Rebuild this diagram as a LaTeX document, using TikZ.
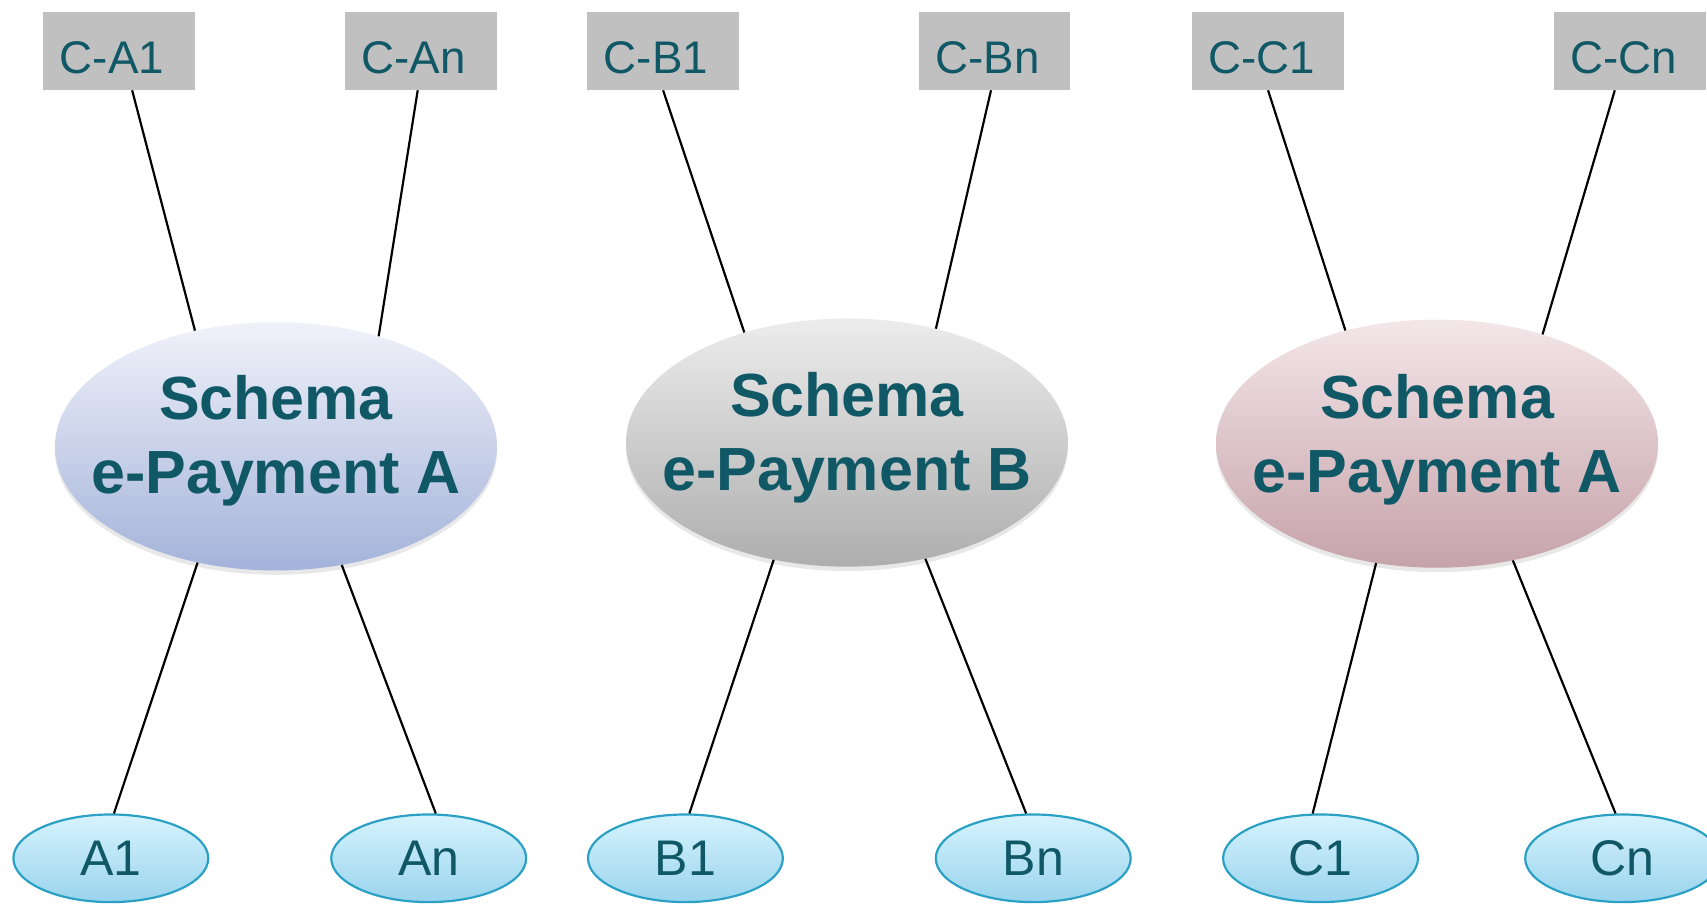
\documentclass[tikz,border=0pt]{standalone}
\usepackage{fontspec}
\setmainfont{Liberation Sans}
\usetikzlibrary{shapes.geometric,shadows}
\definecolor{schemateal}{RGB}{16,88,102}
\definecolor{boxgray}{RGB}{192,192,192}
\definecolor{membertop}{RGB}{214,243,253}
\definecolor{memberbottom}{RGB}{154,212,237}
\definecolor{memberborder}{RGB}{42,160,196}
\tikzset{link/.style={black, line width=2pt},
  cbox/.style={fill=boxgray, text=schemateal, font=\fontsize{42}{50}\selectfont, minimum height=71.7pt, text width=109pt, inner xsep=15pt, inner ysep=0pt, align=left, text height=41pt, text depth=0pt},
  schema/.style={ellipse, minimum width=406pt, minimum height=228pt, inner sep=0pt, drop shadow={shadow xshift=0pt, shadow yshift=-4pt, opacity=0.15, fill=black!60}},
  schematext/.style={text=schemateal, font=\bfseries\fontsize{56}{68}\selectfont, align=center, inner sep=0pt},
  member/.style={ellipse, draw=memberborder, line width=2pt, top color=membertop, bottom color=memberbottom, minimum width=179pt, minimum height=80.5pt, inner sep=0pt, text=schemateal, font=\fontsize{46}{55}\selectfont}}

\begin{document}
\begin{tikzpicture}[x=1pt, y=-1pt]
  \useasboundingbox (0,0) rectangle (1568,830);

  % clearing nodes
  \node[cbox] (ca1) at ( 109.4,46.9) {C-A1};
  \node[cbox] (can) at ( 386.7,46.9) {C-An};
  \node[cbox] (cb1) at ( 609.1,46.9) {C-B1};
  \node[cbox] (cbn) at ( 913.8,46.9) {C-Bn};
  \node[cbox] (cc1) at (1164.8,46.9) {C-C1};
  \node[cbox] (ccn) at (1497.3,46.9) {C-Cn};

  % schemes
  \node[schema, top color={rgb,255:red,240;green,242;blue,250}, middle color={rgb,255:red,202;green,210;blue,233}, bottom color={rgb,255:red,164;green,179;blue,218}] (ea) at ( 253.5,410.0) {};
  \node[schema, top color={rgb,255:red,236;green,236;blue,236}, middle color={rgb,255:red,210;green,210;blue,210}, bottom color={rgb,255:red,174;green,174;blue,174}] (eb) at ( 778.0,406.5) {};
  \node[schema, top color={rgb,255:red,243;green,230;blue,233}, middle color={rgb,255:red,222;green,199;blue,204}, bottom color={rgb,255:red,198;green,163;blue,170}] (ec) at (1320.0,407.5) {};
  \node[schematext] (ta) at ([yshift=5pt]ea) {Schema\\e-Payment A};
  \node[schematext] (tb) at ([yshift=4pt]eb) {Schema\\e-Payment B};
  \node[schematext] (tc) at ([yshift=4pt]ec) {Schema\\e-Payment A};

  % members
  \node[member] (a1) at ( 101.8,788.4) {A1};
  \node[member] (an) at ( 393.8,788.4) {An};
  \node[member] (b1) at ( 629.6,788.4) {B1};
  \node[member] (bn) at ( 949.1,788.4) {Bn};
  \node[member] (c1) at (1213.0,788.4) {C1};
  \node[member] (cn) at (1490.5,788.4) {Cn};

  \draw[link] ([xshift=12pt]ca1.south) -- (ea.125);
  \draw[link] ([xshift=-3pt]can.south) -- (ea.47);
  \draw[link] (cb1.south) -- (eb.133);
  \draw[link] ([xshift=-3.5pt]cbn.south) -- (eb.52);
  \draw[link] (cc1.south) -- (ec.129);
  \draw[link] ([xshift=-14pt]ccn.south) -- (ec.46);

  \draw[link] (ea.236) -- (a1.86);
  \draw[link] (ea.299) -- (an.81);
  \draw[link] (eb.238) -- (b1.85);
  \draw[link] (eb.304) -- (bn.99);
  \draw[link] (ec.243) -- (c1.100);
  \draw[link] (ec.303) -- (cn.99);
\end{tikzpicture}
\end{document}
